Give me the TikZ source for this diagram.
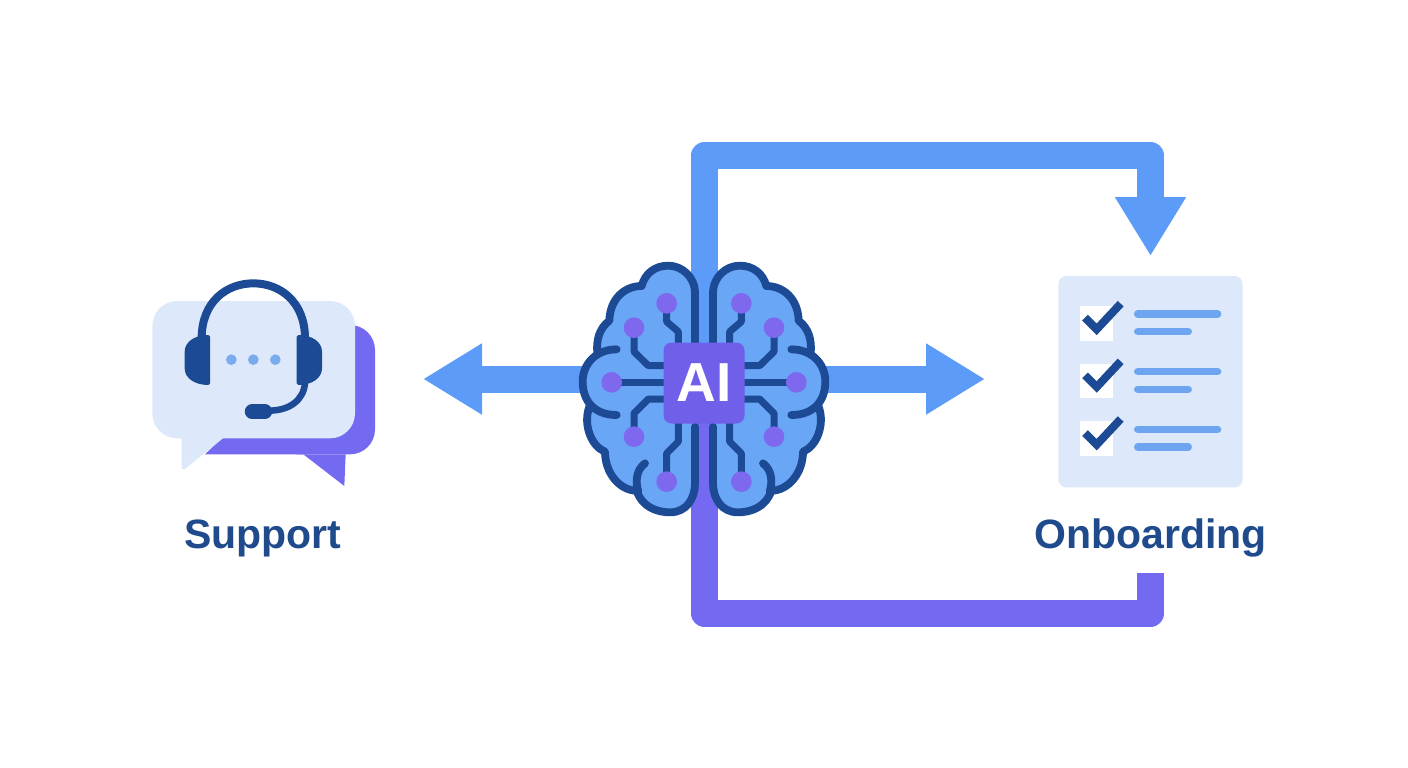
\documentclass[tikz,border=0pt]{standalone}
\usepackage{fontspec}
\setmainfont{Liberation Sans}
\usetikzlibrary{arrows.meta}
\definecolor{arrowblue}{HTML}{5C9CF8}
\definecolor{arrowpurple}{HTML}{7469F1}
\definecolor{navy}{HTML}{1D4A94}
\definecolor{paleblue}{HTML}{DDE8FA}
\definecolor{brainfill}{HTML}{69A6F6}
\definecolor{dotpurple}{HTML}{7D68EE}
\definecolor{chipfill}{HTML}{705FE8}
\definecolor{linesblue}{HTML}{6EA5F0}
\definecolor{dotblue}{HTML}{7BABEF}
\definecolor{labelnavy}{HTML}{1F4A8C}
\tikzset{
  x=1pt,y=-1pt,
  flow/.style={line width=27pt,line join=round},
  headed/.style={flow,-{Triangle[length=59pt,width=67pt]}},
  brainline/.style={draw=navy,line width=7.8pt,line cap=round,line join=round},
  tracer/.style={draw=navy,line width=7pt,line join=round},
  zoomed/.style={x=0.33333pt,y=-0.33333pt},
  labeltext/.style={text=labelnavy,font=\fontsize{41pt}{41pt}\selectfont\bfseries,inner sep=0pt},
}
\newcommand{\brainhalf}{%
  \fill[brainfill]
    (375,275) -- (375,130)
    .. controls (375,80) and (335,47) .. (295,47)
    .. controls (255,47) and (225,70) .. (215,108)
    .. controls (165,108) and (120,145) .. (118,212)
    .. controls (88,235) and (78,270) .. (80,312)
    .. controls (50,325) and (38,360) .. (38,395)
    .. controls (38,430) and (45,455) .. (58,470)
    .. controls (38,525) and (65,590) .. (105,605)
    .. controls (105,670) and (150,722) .. (200,722)
    .. controls (215,770) and (260,787) .. (300,787)
    .. controls (350,787) and (375,745) .. (375,700)
    -- cycle;
  \draw[brainline]
    (375,530) -- (375,700)
    .. controls (375,745) and (350,787) .. (300,787)
    .. controls (260,787) and (215,770) .. (200,722)
    .. controls (150,722) and (105,670) .. (105,605)
    .. controls (65,590) and (38,525) .. (58,470);
  \draw[brainline]
    (375,285) -- (375,130)
    .. controls (375,80) and (335,47) .. (295,47)
    .. controls (255,47) and (225,70) .. (215,108)
    .. controls (165,108) and (120,145) .. (118,212)
    .. controls (88,235) and (78,270) .. (82,310);
  \draw[brainline] (140,298) .. controls (80,298) and (38,340) .. (38,395)
    .. controls (38,450) and (70,495) .. (140,495);
  \draw[brainline] (225,640) .. controls (198,660) and (196,695) .. (205,725);
  \draw[tracer] (290,160) -- (290,215) -- (325,245) -- (325,285);
  \draw[tracer] (192,233) -- (192,305) -- (235,347) -- (285,347);
  \draw[tracer] (125,397) -- (285,397);
  \draw[tracer] (192,560) -- (192,490) -- (235,447) -- (285,447);
  \draw[tracer] (290,695) -- (290,610) -- (325,575) -- (325,515);
  \foreach \p in {(290,160),(192,233),(125,397),(192,560),(290,695)}
    \fill[dotpurple] \p circle[radius=31];
}
\begin{document}
\begin{tikzpicture}
\useasboundingbox[fill=white] (0,0) rectangle (1408,768);
% anchors for the connectors
\coordinate (braincentre) at (704.5,379);
\coordinate (supporttip) at (423,379);
\coordinate (onboardtip) at (985,379);
\coordinate (listtop) at (1150.5,256);
\coordinate (listbottom) at (1150.5,573);
% connectors behind the brain
\draw[headed,arrowblue] (braincentre) -- (supporttip);
\draw[headed,arrowblue] (braincentre) -- (onboardtip);
\draw[headed,arrowblue] (braincentre) |- (1150.5,155.5) -- (listtop);
\draw[flow,arrowpurple] (braincentre) ++(0,30) -- (704.5,613.5) -| (listbottom);
% brain
\begin{scope}[shift={(570,250)},zoomed]
  \brainhalf
\end{scope}
\begin{scope}[shift={(838,250)},x=-0.33333pt,y=-0.33333pt]
  \brainhalf
\end{scope}
\node[fill=chipfill,rounded corners=8pt,minimum size=81pt,inner sep=0pt,text=white,font=\fontsize{55pt}{55pt}\selectfont\bfseries] (chip) at (704,383) {AI};
% support icon
\begin{scope}[shift={(140,270)},zoomed]
  \fill[arrowpurple,rounded corners=25pt] (400,165) -- (705,165) -- (705,553) -- (400,553) -- cycle;
  \fill[arrowpurple] (195,553) -- (255,495) -- (500,495) -- (500,553) -- cycle;
  \fill[arrowpurple] (490,553) -- (613,648) -- (617,553) -- cycle;
  \fill[paleblue] (125,490) -- (125,597) -- (135,597) -- (255,500) -- cycle;
  \fill[paleblue,rounded corners=25pt] (37,93) rectangle (645,505);
  \draw[navy,line width=8pt] (185,205) .. controls (185,95) and (260,40) .. (340,40)
    .. controls (420,40) and (495,95) .. (495,205);
  \fill[navy] (205,195) .. controls (165,195) and (134,215) .. (134,245) -- (134,295)
    .. controls (134,325) and (165,345) .. (205,345) -- (210,340) -- (210,200) -- cycle;
  \fill[navy] (475,195) .. controls (515,195) and (546,215) .. (546,245) -- (546,295)
    .. controls (546,325) and (515,345) .. (475,345) -- (470,340) -- (470,200) -- cycle;
  \draw[navy,line width=6.5pt] (495,340) .. controls (490,390) and (450,422) .. (385,422);
  \draw[navy,line width=14.5pt,line cap=round] (336,425) -- (375,425);
  \foreach \x in {274,340,406} \fill[dotblue] (\x,269) circle[radius=16];
\end{scope}
\node[labeltext] (support) at (263,538) {Support};
% onboarding checklist
\begin{scope}[shift={(1050,265)},zoomed]
  \fill[paleblue,rounded corners=8pt] (25,33) rectangle (578,667);
  \foreach \d in {0,173,346}{
    \fill[white] (90,123+\d) rectangle (190,227+\d);
    \draw[navy,line width=8pt] (105,158+\d) -- (140,193+\d) -- (212,116+\d);
    \draw[linesblue,line width=7.3pt,line cap=round] (263,147+\d) -- (503,147+\d);
    \draw[linesblue,line width=7.3pt,line cap=round] (263,200+\d) -- (415,200+\d);
  }
\end{scope}
\node[labeltext] (onboarding) at (1150.5,538) {Onboarding};
\end{tikzpicture}
\end{document}
